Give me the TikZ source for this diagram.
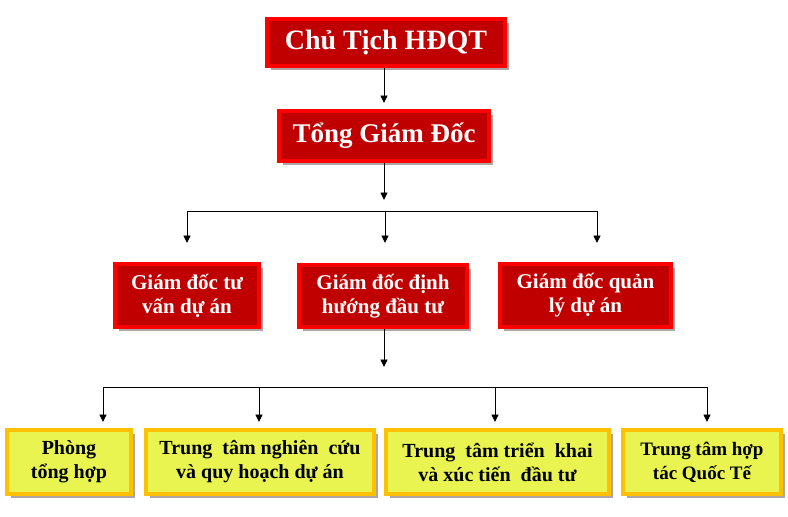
\documentclass[tikz,border=0pt]{standalone}
\usepackage{fontspec}
\setmainfont{Liberation Serif}
\usetikzlibrary{arrows.meta,shadows}
\definecolor{redborder}{HTML}{FF0000}
\definecolor{redfill}{HTML}{C00000}
\definecolor{yelborder}{HTML}{FFC000}
\definecolor{yelfill}{HTML}{EAF450}
\definecolor{shadowc}{HTML}{B0A4A4}
\tikzset{
  redbox/.style={draw=redborder, fill=redfill, line width=3.5pt, text=white,
    font=\bfseries\fontsize{21}{24}\selectfont, align=center, inner sep=0pt,
    drop shadow={shadow xshift=3.5pt, shadow yshift=-3.5pt, fill=shadowc, opacity=1}},
  yelbox/.style={draw=yelborder, fill=yelfill, line width=4pt, text=black,
    font=\bfseries\fontsize{20}{24}\selectfont, align=center, inner sep=0pt,
    drop shadow={shadow xshift=3.5pt, shadow yshift=-3.5pt, fill=shadowc, opacity=1}},
  conn/.style={draw=black, line width=0.9pt},
  arr/.style={conn, -{Triangle[width=7pt,length=7.5pt]}},
}
\begin{document}
\begin{tikzpicture}[x=1pt,y=-1pt]
\useasboundingbox (0,0) rectangle (788,517);
% top boxes
\node[redbox, minimum width=238pt, minimum height=47pt, font=\bfseries\fontsize{28}{30}\selectfont] (chu) at (386,42.5) {Chủ Tịch HĐQT};
\node[redbox, minimum width=210pt, minimum height=50pt, font=\bfseries\fontsize{27}{30}\selectfont] (tgd) at (384,136) {Tổng Giám Đốc};
% middle row
\node[redbox, minimum width=144pt, minimum height=63pt] (gda) at (187,295.5) {Giám đốc tư\\vấn dự án};
\node[redbox, minimum width=168pt, minimum height=62pt] (gdb) at (383,296) {Giám đốc định\\hướng đầu tư};
\node[redbox, minimum width=171pt, minimum height=63pt] (gdc) at (585.5,295.5) {Giám đốc quản\\lý dự án};
% bottom row
\node[yelbox, minimum width=124pt, minimum height=64pt] (p1) at (69,462) {Phòng\\tổng hợp};
\node[yelbox, minimum width=228pt, minimum height=64pt] (p2) at (260,462) {Trung\ \ tâm nghiên\ \ cứu\\và quy hoạch dự án};
\node[yelbox, minimum width=223pt, minimum height=64pt] (p3) at (497.5,462) {Trung\ \ tâm triển\ \ khai\\và xúc tiến\ \ đầu tư};
\node[yelbox, minimum width=158pt, minimum height=64pt, font=\bfseries\fontsize{19}{24}\selectfont] (p4) at (702,462) {Trung tâm hợp\\tác Quốc Tế};
% coordinates
\coordinate (t1) at (384,103);
\coordinate (t2) at (384,200);
\coordinate (bl) at (187,211);
\coordinate (bm) at (385,211);
\coordinate (br) at (597,211);
\coordinate (el) at (187,243);
\coordinate (em) at (385,243);
\coordinate (er) at (597,243);
\coordinate (t3) at (384,367);
\coordinate (cl) at (103,387);
\coordinate (c2) at (259,387);
\coordinate (c3) at (495,387);
\coordinate (cr) at (707,387);
\coordinate (f1) at (103,422);
\coordinate (f2) at (259,422);
\coordinate (f3) at (495,422);
\coordinate (f4) at (707,422);
% connectors
\draw[arr] (chu.south -| t1) -- (t1);
\draw[arr] (tgd.south -| t2) -- (t2);
\draw[conn] (bl) -- (br);
\draw[arr] (bl) -- (el);
\draw[arr] (bm) -- (em);
\draw[arr] (br) -- (er);
\draw[arr] (gdb.south -| t3) -- (t3);
\draw[conn] (cl) -- (cr);
\draw[arr] (cl) -- (f1);
\draw[arr] (c2) -- (f2);
\draw[arr] (c3) -- (f3);
\draw[arr] (cr) -- (f4);
\end{tikzpicture}
\end{document}
